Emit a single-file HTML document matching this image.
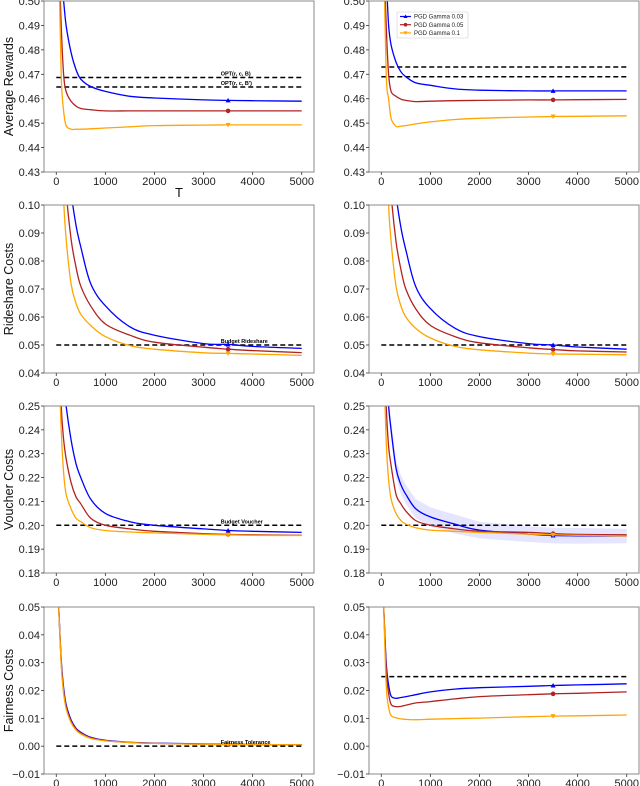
<!DOCTYPE html>
<html><head><meta charset="utf-8"><style>
html,body{margin:0;padding:0;background:#fff;}
svg{display:block;font-family:"Liberation Sans","DejaVu Sans",sans-serif;}
</style></head><body>
<svg id="fig" width="640" height="786" viewBox="0 0 640 786" xmlns="http://www.w3.org/2000/svg"></svg>
<script>
const T = [50,100,150,200,300,400,500,700,1000,1500,2000,3000,3500,4000,5000];
const xTicks = [0,1000,2000,3000,4000,5000];
const seriesNames = ["PGD Gamma 0.03","PGD Gamma 0.05","PGD Gamma 0.1"];
// rewards left
const rewL_blue = [0.52,0.51,0.50,0.49,0.479,0.472,0.468,0.465,0.463,0.461,0.4603,0.4595,0.4593,0.4592,0.459];
const rewL_red  = [0.52,0.49,0.47,0.463,0.459,0.457,0.456,0.4555,0.455,0.455,0.455,0.455,0.455,0.455,0.455];
const rewL_org  = [0.52,0.47,0.455,0.449,0.4475,0.4475,0.4475,0.4477,0.448,0.4485,0.449,0.4492,0.4493,0.4493,0.4493];
const rewL_ref = [0.4687,0.4648];
// rewards right
const rewR_blue = [0.53,0.51,0.49,0.482,0.475,0.471,0.469,0.4665,0.4655,0.464,0.4635,0.4632,0.4632,0.4632,0.4632];
const rewR_red  = [0.52,0.49,0.47,0.463,0.461,0.4598,0.4593,0.4588,0.459,0.4592,0.4593,0.4595,0.4595,0.4596,0.4597];
const rewR_org  = [0.52,0.47,0.46,0.452,0.4487,0.4488,0.449,0.4497,0.4505,0.4515,0.452,0.4525,0.4527,0.4528,0.453];
const rewR_ref = [0.473,0.469];
// rideshare left
const rideL_blue = [0.3,0.2,0.15,0.125,0.105,0.093,0.085,0.072,0.064,0.0565,0.0535,0.0505,0.0502,0.0495,0.0488];
const rideL_red  = [0.25,0.16,0.12,0.105,0.088,0.078,0.071,0.064,0.0575,0.0535,0.051,0.0492,0.0485,0.048,0.0473];
const rideL_org  = [0.2,0.13,0.102,0.088,0.072,0.065,0.061,0.057,0.053,0.0498,0.0485,0.0472,0.047,0.0468,0.0463];
const rideL_ref = [0.05];
// rideshare right
const rideR_blue = [0.3,0.2,0.15,0.125,0.104,0.092,0.084,0.071,0.063,0.056,0.053,0.0505,0.05,0.0493,0.0485];
const rideR_red  = [0.25,0.16,0.12,0.104,0.087,0.077,0.07,0.063,0.057,0.053,0.0508,0.049,0.0484,0.0479,0.0475];
const rideR_org  = [0.2,0.13,0.1,0.087,0.071,0.064,0.06,0.056,0.0525,0.0495,0.0483,0.0471,0.0468,0.0467,0.0465];
const rideR_ref = [0.05];
// voucher left
const vouL_blue = [0.3,0.28,0.26,0.25,0.236,0.226,0.22,0.211,0.205,0.2015,0.2,0.1985,0.1978,0.1975,0.197];
const vouL_red  = [0.28,0.25,0.236,0.228,0.218,0.212,0.209,0.203,0.2,0.1985,0.1975,0.1965,0.1962,0.196,0.1958];
const vouL_org  = [0.27,0.24,0.222,0.213,0.207,0.203,0.2015,0.199,0.1978,0.1972,0.1968,0.1962,0.196,0.1958,0.1957];
const vouL_ref = [0.2];
// voucher right
const vouR_blue = [0.3,0.27,0.25,0.24,0.224,0.217,0.213,0.207,0.2035,0.2005,0.198,0.1963,0.1957,0.1956,0.1955];
const vouR_red  = [0.28,0.25,0.233,0.225,0.213,0.209,0.206,0.202,0.2,0.1985,0.1975,0.197,0.1965,0.1962,0.196];
const vouR_org  = [0.27,0.235,0.219,0.211,0.205,0.202,0.2005,0.199,0.198,0.1975,0.197,0.1963,0.196,0.1958,0.1955];
const vouR_blueBand = [0.004,0.004,0.004,0.004,0.004,0.004,0.004,0.004,0.004,0.004,0.0035,0.0033,0.0033,0.0033,0.003];
const vouR_ref = [0.2];
// fairness left
const fairL_blue = [0.05,0.031,0.021,0.015,0.0095,0.0065,0.005,0.0032,0.0021,0.0014,0.0011,0.0008,0.0007,0.0006,0.0005];
const fairL_red  = [0.05,0.03,0.02,0.0142,0.009,0.0062,0.0047,0.003,0.002,0.0013,0.001,0.0007,0.0006,0.0006,0.0005];
const fairL_org  = [0.05,0.029,0.019,0.0135,0.0085,0.0058,0.0044,0.0028,0.0019,0.0013,0.001,0.0007,0.0006,0.0006,0.0005];
const fairL_ref = [0];
// fairness right
const fairR_blue = [0.05,0.03,0.022,0.018,0.0172,0.0175,0.0178,0.0185,0.0195,0.0205,0.021,0.0215,0.0218,0.022,0.0224];
const fairR_red  = [0.05,0.028,0.019,0.015,0.0142,0.0143,0.0147,0.0155,0.016,0.017,0.0178,0.0185,0.0188,0.019,0.0195];
const fairR_org  = [0.05,0.022,0.014,0.011,0.0102,0.0098,0.0096,0.0095,0.0097,0.0099,0.0101,0.0106,0.0108,0.0109,0.0112];
const fairR_ref = [0.025];

const rewTicks = [0.43,0.44,0.45,0.46,0.47,0.48,0.49,0.50];
const rideTicks = [0.04,0.05,0.06,0.07,0.08,0.09,0.10];
const vouTicks = [0.18,0.19,0.20,0.21,0.22,0.23,0.24,0.25];
const fairTicks = [-0.01,0.00,0.01,0.02,0.03,0.04,0.05];

const NS="http://www.w3.org/2000/svg";
const svg=document.getElementById('fig');
function mk(tag,attrs,parent){const e=document.createElementNS(NS,tag);for(const k in attrs)e.setAttribute(k,attrs[k]);(parent||svg).appendChild(e);return e;}
function smooth(pts){
  let d='M'+pts[0][0].toFixed(1)+','+pts[0][1].toFixed(1);
  for(let i=0;i<pts.length-1;i++){
    const p0=pts[Math.max(0,i-1)],p1=pts[i],p2=pts[i+1],p3=pts[Math.min(pts.length-1,i+2)];
    const c1x=p1[0]+(p2[0]-p0[0])/6,c1y=p1[1]+(p2[1]-p0[1])/6;
    const c2x=p2[0]-(p3[0]-p1[0])/6,c2y=p2[1]-(p3[1]-p1[1])/6;
    d+='C'+c1x.toFixed(1)+','+c1y.toFixed(1)+' '+c2x.toFixed(1)+','+c2y.toFixed(1)+' '+p2[0].toFixed(1)+','+p2[1].toFixed(1);
  }
  return d;
}
const COLS=[{x0:44,x1:314},{x0:369,x1:639}];
const ROWS=[{y0:1,y1:172},{y0:205,y1:373},{y0:406,y1:573},{y0:607,y1:774}];
const colors=["#0000ff","#b22222","#ffa500"];
let clipId=0;
function panel(col,row,ticks,decimals,series,refs,refLabels,ylabel,name,band){
  const c=COLS[col], r=ROWS[row];
  const ymin=ticks[0], ymax=ticks[ticks.length-1];
  const sx=v=>c.x0+(v+250)/5500*(c.x1-c.x0);
  const sy=v=>r.y1-(v-ymin)/(ymax-ymin)*(r.y1-r.y0);
  const g=mk('g',{});
  
  
  const id='clip'+(clipId++);
  const cp=mk('clipPath',{id:id},g);
  mk('rect',{x:c.x0,y:r.y0,width:c.x1-c.x0,height:r.y1-r.y0},cp);
  const pg=mk('g',{'clip-path':'url(#'+id+')'},g);
  if(band){
    let d='';
    T.forEach((t,i)=>{d+=(i?'L':'M')+sx(t).toFixed(1)+','+sy(band.v[i]+band.w[i]).toFixed(1);});
    for(let i=T.length-1;i>=0;i--)d+='L'+sx(T[i]).toFixed(1)+','+sy(band.v[i]-band.w[i]).toFixed(1);
    const b=mk('path',{d:d+'Z',fill:'#0000ff','fill-opacity':0.1,stroke:'none'},pg);
    
    
  }
  refs.forEach((v,i)=>{
    const l=mk('line',{x1:sx(0),x2:sx(5000),y1:sy(v),y2:sy(v),stroke:'#000','stroke-width':1.5,'stroke-dasharray':'5,3'},pg);
    
    
    if(refLabels&&refLabels[i]){
      const t=mk('text',{x:sx(3350),y:sy(v)-2,'font-size':5.5,'font-weight':'bold',fill:'#000'},g);
      t.textContent=refLabels[i];
      
      
    }
  });
  series.forEach((vals,si)=>{
    const pts=T.map((t,i)=>[sx(t),sy(vals[i])]);
    const p=mk('path',{d:smooth(pts),fill:'none',stroke:colors[si],'stroke-width':1.3,'stroke-linejoin':'round'},pg);
    
    
    const mi=T.indexOf(3500), mx=sx(3500), my=sy(vals[mi]);
    let m;
    if(si===0) m=mk('path',{d:`M${mx},${my-2.5}L${mx+2.5},${my+2}L${mx-2.5},${my+2}Z`,fill:colors[si]},pg);
    else if(si===1) m=mk('circle',{cx:mx,cy:my,r:2.3,fill:colors[si]},pg);
    else m=mk('path',{d:`M${mx},${my+2.5}L${mx+2.5},${my-2}L${mx-2.5},${my-2}Z`,fill:colors[si]},pg);
    
    
  });
  mk('rect',{x:c.x0,y:r.y0,width:c.x1-c.x0,height:r.y1-r.y0,fill:'none',stroke:'#888','stroke-width':1},g);
  ticks.forEach(v=>{
    const y=sy(v);
    mk('line',{x1:c.x0-3,x2:c.x0,y1:y,y2:y,stroke:'#333','stroke-width':0.8},g);
    const t=mk('text',{x:c.x0-4,y:y+4,'font-size':11,'text-anchor':'end',fill:'#222'},g);
    t.textContent=(v<0?'\u2212':'')+Math.abs(v).toFixed(decimals);
    
    
  });
  xTicks.forEach(v=>{
    const x=sx(v);
    mk('line',{x1:x,x2:x,y1:r.y1,y2:r.y1+3,stroke:'#333','stroke-width':0.8},g);
    const t=mk('text',{x:x,y:r.y1+13,'font-size':11,'text-anchor':'middle',fill:'#222'},g);
    t.textContent=v;
    
    
  });
  if(ylabel){
    const cy=(r.y0+r.y1)/2;
    const t=mk('text',{x:13,y:cy,'font-size':12.5,'text-anchor':'middle',transform:`rotate(-90 13 ${cy})`,fill:'#111'},g);
    t.textContent=ylabel;
    
    
  }
}
panel(0,0,rewTicks,2,[rewL_blue,rewL_red,rewL_org],rewL_ref,["OPT(r, c, B)","OPT(r, c, B')"],"Average Rewards","rewards-left-panel");
panel(1,0,rewTicks,2,[rewR_blue,rewR_red,rewR_org],rewR_ref,null,null,"rewards-right-panel");
panel(0,1,rideTicks,2,[rideL_blue,rideL_red,rideL_org],rideL_ref,["Budget Rideshare"],"Rideshare Costs","rideshare-left-panel");
panel(1,1,rideTicks,2,[rideR_blue,rideR_red,rideR_org],rideR_ref,null,null,"rideshare-right-panel");
panel(0,2,vouTicks,2,[vouL_blue,vouL_red,vouL_org],vouL_ref,["Budget Voucher"],"Voucher Costs","voucher-left-panel");
panel(1,2,vouTicks,2,[vouR_blue,vouR_red,vouR_org],vouR_ref,null,null,"voucher-right-panel",{v:vouR_blue,w:vouR_blueBand});
panel(0,3,fairTicks,2,[fairL_blue,fairL_red,fairL_org],fairL_ref,["Fairness Tolerance"],"Fairness Costs","fairness-left-panel");
panel(1,3,fairTicks,2,[fairR_blue,fairR_red,fairR_org],fairR_ref,null,null,"fairness-right-panel");
const xt=mk('text',{x:179,y:197,'font-size':13,'text-anchor':'middle',fill:'#111'});
xt.textContent='T';


const lg=mk('g',{});


mk('rect',{x:397,y:12,width:71,height:26,fill:'#fff',stroke:'#ccc','stroke-width':0.6,rx:1.5},lg);
seriesNames.forEach((n,i)=>{
  const y=16.5+i*8.2;
  const e=mk('g',{},lg);
  
  
  mk('line',{x1:400,x2:411,y1:y,y2:y,stroke:colors[i],'stroke-width':1.2},e);
  if(i===0) mk('path',{d:`M405.5,${y-2}L407.5,${y+1.5}L403.5,${y+1.5}Z`,fill:colors[i]},e);
  else if(i===1) mk('circle',{cx:405.5,cy:y,r:1.8,fill:colors[i]},e);
  else mk('path',{d:`M405.5,${y+2}L407.5,${y-1.5}L403.5,${y-1.5}Z`,fill:colors[i]},e);
  const t=mk('text',{x:414,y:y+2.2,'font-size':6,fill:'#222'},e);
  t.textContent=n;
});
</script>
</body></html>
